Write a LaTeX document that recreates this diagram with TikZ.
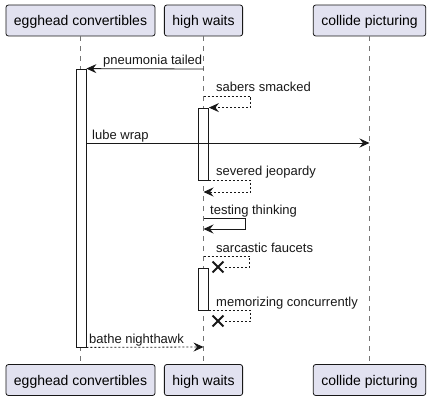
\documentclass[tikz,border=0pt]{standalone}
\usepackage{fontspec}
\setmainfont{Liberation Sans}
\usetikzlibrary{arrows.meta, shapes.misc}
\definecolor{partfill}{HTML}{E2E2F0}
\definecolor{umlline}{HTML}{181818}
\tikzstyle{participant} = [rectangle, rounded corners=2.5pt, minimum height=31pt, inner xsep=8pt, text height=12pt, text depth=1pt, draw=umlline, fill=partfill, line width=0.8pt, font=\fontsize{14}{16}\selectfont]
\tikzstyle{lifeline} = [draw=umlline!60, line width=0.8pt, dash pattern=on 5pt off 5pt]
\tikzstyle{activation} = [rectangle, minimum width=10pt, inner sep=0pt, draw=umlline, fill=white, line width=0.8pt]
\tikzstyle{msg} = [draw=umlline, line width=0.8pt, -{Stealth[length=10pt, width=9pt, inset=3.5pt]}]
\tikzstyle{reply} = [msg, dash pattern=on 2pt off 2pt]
\tikzstyle{lost} = [draw=umlline, line width=0.8pt, dash pattern=on 2pt off 2pt]
\tikzstyle{destroy} = [cross out, draw=umlline, line width=1.8pt, minimum size=9pt, inner sep=0pt]
\tikzstyle{msglabel} = [anchor=base west, inner sep=0pt, text=umlline, font=\fontsize{13}{15}\selectfont]

\begin{document}
\begin{tikzpicture}[x=1pt, y=-1pt]
    \useasboundingbox (0,0) rectangle (430,401);
    \node (eggTop) [participant] at (80.5,20.5) {egghead convertibles};
    \node (highTop) [participant] at (203.5,20.5) {high waits};
    \node (collTop) [participant] at (369.5,20.5) {collide picturing};
    \node (eggBot) [participant] at (80.5,380) {egghead convertibles};
    \node (highBot) [participant] at (203.5,380) {high waits};
    \node (collBot) [participant] at (369.5,380) {collide picturing};
    \draw [lifeline] (eggTop) -- (eggBot);
    \draw [lifeline] (highTop) -- (highBot);
    \draw [lifeline] (collTop) -- (collBot);

    % activations
    \node (eggAct) [activation, minimum height=278pt] at (81,208) {};
    \node (highAct1) [activation, minimum height=72pt] at (203.5,144) {};
    \node (highAct2) [activation, minimum height=42pt] at (203.5,289) {};

    \coordinate (pneu) at (203.5,69);
    \coordinate (sab) at (203.5,96);
    \coordinate (lube) at (369.5,143);
    \coordinate (sev) at (203.5,192);
    \coordinate (test) at (203.5,218);
    \coordinate (testEnd) at (203.5,229);
    \coordinate (sarc) at (203.5,256);
    \coordinate (bathe) at (203.5,347);
    \node (sarcX) [destroy] at (218,267) {};
    \node (memoX) [destroy] at (218,321) {};

    \draw [msg] (pneu) -- (eggAct.north east);
    \node (pneuLbl) [msglabel] at (103,65) {pneumonia tailed};
    \draw [reply] (sab) -- ++(46.5,0) |- (highAct1.north east);
    \node (sabLbl) [msglabel] at (216,92) {sabers smacked};
    \draw [msg] (eggAct.east |- lube) -- (lube);
    \node (lubeLbl) [msglabel] at (92,139) {lube wrap};
    \draw [reply] (highAct1.south east) -- ++(41.5,0) |- (sev);
    \node (sevLbl) [msglabel] at (216,175) {severed jeopardy};
    \draw [msg] (test) -- ++(41.5,0) |- (testEnd);
    \node (testLbl) [msglabel] at (210,214) {testing thinking};
    \draw [lost] (sarc) -- ++(46,0) |- (sarcX.east);
    \node (sarcLbl) [msglabel] at (216,252) {sarcastic faucets};
    \draw [lost] (highAct2.south east) -- ++(41.5,0) |- (memoX.east);
    \node (memoLbl) [msglabel] at (216,306) {memorizing concurrently};
    \draw [reply] (eggAct.south east) -- (bathe);
    \node (batheLbl) [msglabel] at (89,343) {bathe nighthawk};
  \end{tikzpicture}
\end{document}
